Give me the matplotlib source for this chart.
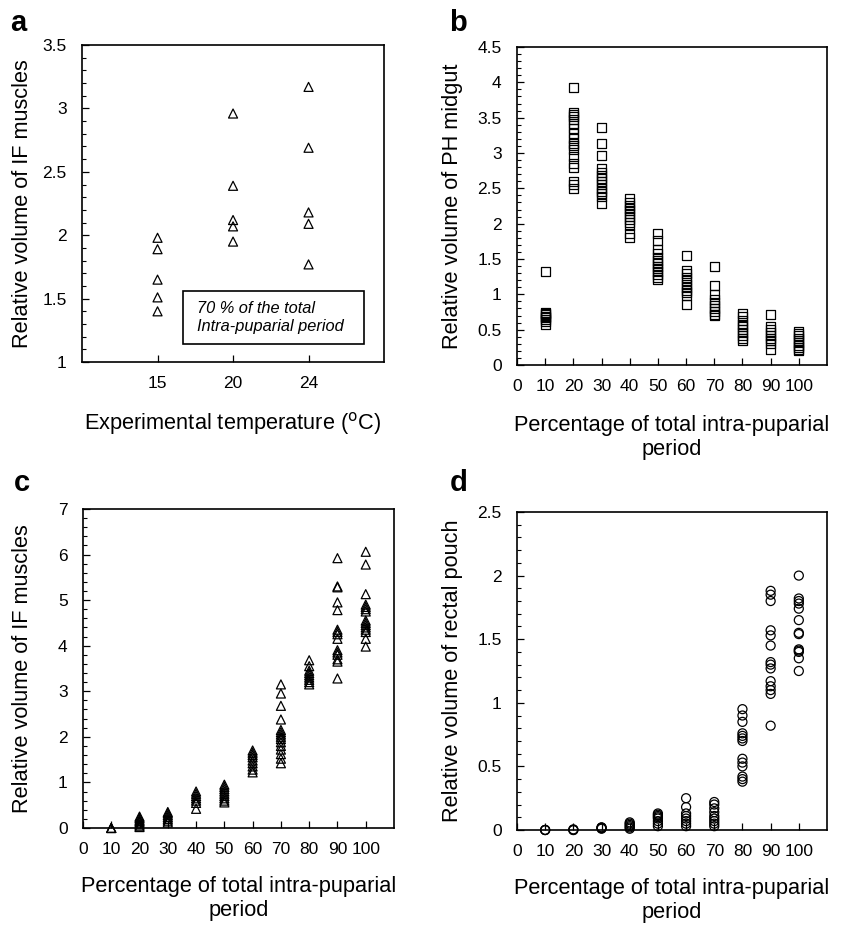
import matplotlib.pyplot as plt
from matplotlib.ticker import MultipleLocator
from matplotlib.patches import Rectangle

plt.rcParams['font.family'] = ['Liberation Sans', 'DejaVu Sans']

# panel a: IF muscles at 70 % of the period, by temperature
temps = ['15', '20', '24']
a_vals = [
    [1.98, 1.89, 1.65, 1.51, 1.40],
    [2.96, 2.39, 2.12, 2.07, 1.95],
    [3.17, 2.69, 2.18, 2.09, 1.77],
]

# percentage of total intra-puparial period
pct = [10, 20, 30, 40, 50, 60, 70, 80, 90, 100]

# panel b: PH midgut
b_vals = [
    [1.33, 0.74, 0.73, 0.71, 0.69, 0.67, 0.65, 0.62, 0.58],
    [3.92, 3.57, 3.55, 3.52, 3.48, 3.42, 3.35, 3.28, 3.20, 3.14, 3.10, 3.05,
     2.95, 2.85, 2.80, 2.60, 2.55, 2.50],
    [3.36, 3.14, 2.96, 2.78, 2.72, 2.68, 2.64, 2.60, 2.55, 2.50, 2.46, 2.42,
     2.39, 2.29],
    [2.35, 2.30, 2.26, 2.22, 2.18, 2.14, 2.10, 2.06, 2.02, 1.98, 1.86, 1.81],
    [1.86, 1.76, 1.63, 1.58, 1.52, 1.48, 1.44, 1.40, 1.36, 1.32, 1.28, 1.24,
     1.21],
    [1.55, 1.34, 1.29, 1.24, 1.19, 1.14, 1.10, 1.06, 1.02, 0.98, 0.85],
    [1.40, 1.13, 1.00, 0.92, 0.88, 0.84, 0.80, 0.76, 0.72, 0.70],
    [0.73, 0.68, 0.63, 0.58, 0.54, 0.50, 0.46, 0.42, 0.38, 0.35],
    [0.72, 0.55, 0.50, 0.46, 0.42, 0.38, 0.35, 0.30, 0.22],
    [0.48, 0.45, 0.42, 0.38, 0.35, 0.32, 0.28, 0.25, 0.22, 0.20],
]

# panel c: IF muscles
c_vals = [
    [0.0, 0.0, 0.0],
    [0.02, 0.05, 0.08, 0.12, 0.15, 0.18, 0.22, 0.25],
    [0.12, 0.16, 0.20, 0.24, 0.28, 0.32, 0.35],
    [0.42, 0.55, 0.60, 0.65, 0.70, 0.75, 0.80],
    [0.56, 0.60, 0.65, 0.70, 0.75, 0.80, 0.85, 0.90, 0.95],
    [1.22, 1.28, 1.35, 1.42, 1.48, 1.55, 1.60, 1.65, 1.70],
    [3.15, 2.95, 2.68, 2.38, 2.15, 2.10, 2.05, 2.00, 1.95, 1.88, 1.80, 1.72,
     1.62, 1.52, 1.42],
    [3.68, 3.55, 3.45, 3.40, 3.35, 3.30, 3.25, 3.20, 3.15],
    [5.92, 5.30, 5.28, 4.95, 4.78, 4.35, 4.30, 4.25, 4.15, 3.90, 3.85, 3.80,
     3.70, 3.65, 3.28],
    [6.06, 5.78, 5.13, 4.90, 4.85, 4.80, 4.75, 4.55, 4.50, 4.45, 4.40, 4.35,
     4.30, 4.15, 3.98],
]

# panel d: rectal pouch
d_vals = [
    [0.0, 0.0, 0.0],
    [0.0, 0.0, 0.005],
    [0.01, 0.015, 0.02, 0.02],
    [0.01, 0.02, 0.03, 0.04, 0.05, 0.06],
    [0.03, 0.05, 0.07, 0.09, 0.10, 0.11, 0.12, 0.13],
    [0.03, 0.05, 0.07, 0.09, 0.11, 0.13, 0.18, 0.25],
    [0.03, 0.05, 0.07, 0.09, 0.11, 0.14, 0.17, 0.20, 0.22],
    [0.95, 0.90, 0.85, 0.76, 0.74, 0.72, 0.70, 0.56, 0.53, 0.50, 0.42, 0.40,
     0.38],
    [1.88, 1.85, 1.80, 1.57, 1.53, 1.45, 1.32, 1.30, 1.27, 1.17, 1.13, 1.10,
     1.07, 0.82],
    [2.00, 1.82, 1.80, 1.78, 1.74, 1.65, 1.55, 1.54, 1.42, 1.41, 1.40, 1.35,
     1.25],
]

fig = plt.figure(figsize=(8.51, 9.25), dpi=100)

ax_a = fig.add_axes([0.0964, 0.6086, 0.3549, 0.3427])
ax_b = fig.add_axes([0.6075, 0.6054, 0.3643, 0.3438])
ax_c = fig.add_axes([0.0975, 0.1049, 0.3655, 0.3449])
ax_d = fig.add_axes([0.6075, 0.1027, 0.3643, 0.3438])

mk = dict(facecolor='none', edgecolor='black', linewidths=0.9, s=42)
LABEL = 15.7


def style(ax, ymin_val, ymax, ymaj, ymin):
    ax.set_ylim(ymin_val, ymax)
    ax.yaxis.set_major_locator(MultipleLocator(ymaj))
    ax.yaxis.set_minor_locator(MultipleLocator(ymin))
    ax.tick_params(direction='in', labelsize=12.5, top=False, right=False,
                   length=5, width=0.9)
    ax.tick_params(axis='y', pad=11)
    ax.tick_params(axis='x', pad=10)
    ax.tick_params(which='minor', direction='in', length=3, width=0.8,
                   top=False, right=False)
    for s in ax.spines.values():
        s.set_linewidth(1.2)
    ax.yaxis.set_major_formatter(plt.FuncFormatter(lambda v, p: f'{v:g}'))


# a
for i, vals in enumerate(a_vals):
    ax_a.scatter([i + 1] * len(vals), vals, marker='^', **mk)
ax_a.set_xlim(0, 4)
ax_a.set_xticks([1, 2, 3])
ax_a.set_xticklabels(temps)
style(ax_a, 1, 3.5, 0.5, 0.1)
ax_a.set_ylabel('Relative volume of IF muscles', fontsize=LABEL)
ax_a.set_xlabel('Experimental temperature ($^{\\rm o}$C)', fontsize=LABEL)
ax_a.add_patch(Rectangle((0.334, 0.057), 0.6, 0.167, transform=ax_a.transAxes,
                         facecolor='white', edgecolor='black', linewidth=1.2))
ax_a.text(0.381, 0.139, '70 % of the total\nIntra-puparial period',
          transform=ax_a.transAxes, fontsize=11.8, style='italic',
          va='center', ha='left', linespacing=1.25)


def pct_panel(ax, data, marker, ymax, ymaj, ymin, ylabel):
    for p, vals in zip(pct, data):
        ax.scatter([p] * len(vals), vals, marker=marker, clip_on=False, **mk)
    ax.set_xlim(0, 110)
    ax.set_xticks(range(0, 101, 10))
    style(ax, 0, ymax, ymaj, ymin)
    ax.set_ylabel(ylabel, fontsize=LABEL)
    ax.set_xlabel('Percentage of total intra-puparial\nperiod', fontsize=LABEL,
                  linespacing=1.15)


pct_panel(ax_b, b_vals, 's', 4.5, 0.5, 0.1, 'Relative volume of PH midgut')
pct_panel(ax_c, c_vals, '^', 7, 1, 0.2, 'Relative volume of IF muscles')
pct_panel(ax_d, d_vals, 'o', 2.5, 0.5, 0.1, 'Relative volume of rectal pouch')

for ax, yl in [(ax_a, -0.162), (ax_b, -0.174), (ax_c, -0.161), (ax_d, -0.174)]:
    ax.yaxis.set_label_coords(yl, 0.5)
for ax, xl in [(ax_a, -0.152), (ax_b, -0.158), (ax_c, -0.152), (ax_d, -0.152)]:
    ax.xaxis.set_label_coords(0.5, xl)

for lab, x, y in [('a', 0.012, 0.975), ('b', 0.528, 0.975),
                  ('c', 0.016, 0.478), ('d', 0.528, 0.478)]:
    fig.text(x, y, lab, fontsize=21, fontweight='bold', va='center')

plt.savefig('out.png', dpi=100)
